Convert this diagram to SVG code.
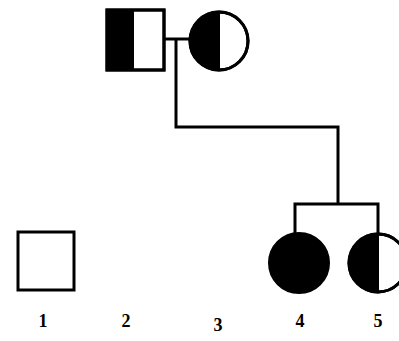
<svg xmlns="http://www.w3.org/2000/svg" width="399" height="341" viewBox="0 0 399 341">
<style>
.s{fill:none;stroke:#000;stroke-width:3}
.w{fill:#fff;stroke:#000;stroke-width:3}
.b{fill:#000}
.l{fill:none;stroke:#000;stroke-width:3;stroke-linejoin:miter}
.t{font-family:"Liberation Serif",serif;font-size:18px;font-weight:bold;text-anchor:middle;fill:#000}
</style>
<rect width="399" height="341" fill="#fff"/>
<g id="connectors">
<path class="l" d="M164,39 H190"/>
<path class="l" d="M176,39 V127 H338 V204"/>
<path class="l" d="M295,233 V204 H378 V233"/>
</g>
<g id="father">
<rect class="w" x="107" y="10" width="57" height="60"/>
<rect class="b" x="107" y="10" width="27" height="60"/>
<rect class="s" x="107" y="10" width="57" height="60"/>
</g>
<g id="mother">
<circle class="w" cx="219" cy="41" r="29"/>
<path class="b" d="M219,12 A29,29 0 0 0 219,70 Z"/>
<circle class="s" cx="219" cy="41" r="29"/>
<line x1="219" y1="12" x2="219" y2="70" stroke="#000" stroke-width="2"/>
</g>
<g id="n1">
<rect class="w" x="18" y="232" width="56" height="58"/>
</g>
<g id="n4">
<circle cx="299" cy="263" r="30" fill="#000" stroke="#000" stroke-width="2"/>
</g>
<g id="n5">
<circle class="w" cx="378" cy="263" r="29"/>
<path class="b" d="M378,234 A29,29 0 0 0 378,292 Z"/>
<circle class="s" cx="378" cy="263" r="29"/>
<line x1="378" y1="234" x2="378" y2="292" stroke="#000" stroke-width="2"/>
</g>
<g id="labels">
<text class="t" x="43" y="327">1</text>
<text class="t" x="126" y="327">2</text>
<text class="t" x="218" y="331">3</text>
<text class="t" x="300" y="327">4</text>
<text class="t" x="378" y="327">5</text>
</g>
</svg>
